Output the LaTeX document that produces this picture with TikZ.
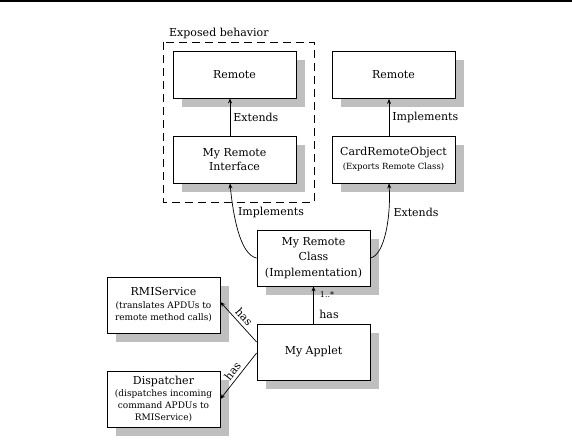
\documentclass[tikz,border=0pt]{standalone}
\usepackage{fontspec}
\setmainfont{DejaVu Serif}
\usetikzlibrary{arrows.meta,shadows}
\begin{document}
\begin{tikzpicture}[x=1pt,y=-1pt,
  box/.style={draw=black, line width=0.8pt, fill=white, align=center,
    inner sep=1pt, font=\fontsize{11}{14}\selectfont,
    general shadow={fill=black!25, shadow xshift=9pt, shadow yshift=-9pt}},
  lbl/.style={font=\fontsize{11}{13}\selectfont, inner sep=1pt},
  arr/.style={-{Stealth[length=5pt,width=4pt]}, line width=0.7pt}]
\useasboundingbox (0,0) rectangle (572,443);
\fill[white] (0,0) rectangle (572,443);
\draw[line width=2pt] (0,1) -- (572,1);
% dashed group
\draw[dash pattern=on 8pt off 5pt, line width=0.8pt] (163,42) rectangle (314,202);
\node[lbl, anchor=west] (exp) at (168,33) {Exposed behavior};
% boxes
\node[box, minimum width=123, minimum height=47] (remL) at (234.5,74.5) {Remote};
\node[box, minimum width=123, minimum height=47] (mri) at (234.5,159.5) {My Remote\\Interface};
\node[box, minimum width=123, minimum height=47] (remR) at (393.5,75) {Remote};
\node[box, minimum width=123, minimum height=47] (cro) at (393.5,159.5) {CardRemoteObject\\{\fontsize{8.5}{11}\selectfont(Exports Remote Class)}};
\node[box, minimum width=113, minimum height=56, font=\fontsize{11}{15.5}\selectfont] (mrc) at (313.5,258) {My Remote\\Class\\(Implementation)};
\node[box, minimum width=113, minimum height=56] (rmi) at (163.5,305) {RMIService\\[-1pt]{\fontsize{9}{11.5}\selectfont (translates APDUs to}\\[-2pt]{\fontsize{9}{11.5}\selectfont remote method calls)}};
\node[box, minimum width=113, minimum height=56] (app) at (313.5,352) {My Applet};
\node[box, minimum width=113, minimum height=56, font=\fontsize{9}{12}\selectfont] (disp) at (163.5,399) {{\fontsize{11}{12}\selectfont Dispatcher}\\(dispatches incoming\\command APDUs to\\RMIService)};
% connectors
\draw[arr] ([xshift=-4.5pt]mri.north) -- node[lbl, right=2pt] (ext1) {Extends} ([xshift=-4.5pt]remL.south);
\draw[arr] ([xshift=-4.5pt]cro.north) -- node[lbl, right=2pt] (imp1) {Implements} ([xshift=-4.5pt]remR.south);
\draw[arr] (mrc.west) .. controls (240,255) and (233,215) .. ([xshift=-4.5pt]mri.south);
\draw[arr] (mrc.east) .. controls (385,255) and (391,215) .. ([xshift=-4.5pt]cro.south);
\node[lbl] (imp2) at (271,212) {Implements};
\node[lbl] (ext2) at (416,212) {Extends};
\draw[arr] (app.north) -- (mrc.south);
\node[font=\fontsize{8}{9}\selectfont, inner sep=0pt] (mult) at (327,295) {1..*};
\node[lbl] (has1) at (329,314) {has};
\draw[arr] ([yshift=10pt]app.west) -- node[lbl, sloped, above=2pt] (has2) {has} ([yshift=3pt]rmi.east);
\draw[arr] ([yshift=-1pt]app.west) -- node[lbl, sloped, above=2pt] (has3) {has} (disp.east);
\end{tikzpicture}
\end{document}
